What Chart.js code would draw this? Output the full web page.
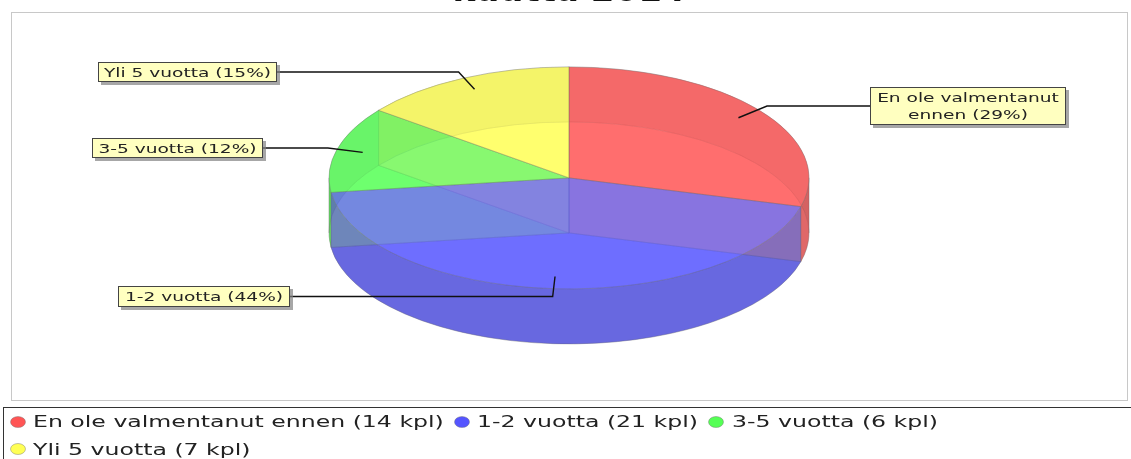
<!DOCTYPE html>
<html>
<head>
<meta charset="utf-8">
<style>
html,body{margin:0;padding:0;background:#fff;overflow:hidden}
canvas{display:block;filter:blur(0.45px)}
</style>
<script src="https://cdn.jsdelivr.net/npm/chart.js@4"></script>
</head>
<body>
<canvas id="c" width="1131" height="459"></canvas>
<script>
const categories = ["En ole valmentanut ennen", "1-2 vuotta", "3-5 vuotta", "Yli 5 vuotta"];
const counts = [14, 21, 6, 7];
const percents = [29, 44, 12, 15];
const titleText = "kuutta 2014";
const topColors = ["rgba(255,85,85,0.66)", "rgba(85,85,255,0.66)", "rgba(85,255,85,0.66)", "rgba(255,255,85,0.66)"];
const wallColors = ["rgba(204,68,68,0.6)", "rgba(68,68,204,0.6)", "rgba(68,204,68,0.6)", "rgba(204,204,68,0.6)"];
const legendColors = ["#ff5555", "#5555ff", "#55ff55", "#ffff55"];

const SQUASH = 111 / 240, DEPTH = 55;
const FONT = '"DejaVu Sans"';
const EDGE = "rgba(110,110,110,0.4)";
const RADIAL = "rgba(200,200,170,0.4)";

// label box layout: x, y, w, h for each category
const boxes = [
  {x: 870, y: 87, w: 196, h: 38, lines: 2},
  {x: 118, y: 286, w: 172, h: 21, lines: 1},
  {x: 92, y: 138, w: 171, h: 20, lines: 1},
  {x: 98, y: 62, w: 179, h: 20, lines: 1}
];
const legendLayout = [
  {mx: 18, my: 422, tx: 33, ty: 427},
  {mx: 462, my: 422, tx: 477, ty: 427},
  {mx: 716, my: 422, tx: 732, ty: 427},
  {mx: 18, my: 449, tx: 33, ty: 455}
];

function sText(ctx, s, x, y, size, stretch, align) {
  ctx.save();
  ctx.font = size + "px " + FONT;
  ctx.textBaseline = "alphabetic";
  ctx.textAlign = align || "left";
  ctx.translate(x, y);
  ctx.scale(stretch, 1);
  ctx.fillText(s, 0, 0);
  ctx.restore();
}

function faces(ctx, arcs, dy, alpha) {
  const a = arcs[0];
  ctx.save();
  ctx.globalAlpha = alpha;
  ctx.translate(a.x, a.y + dy);
  ctx.scale(1, SQUASH);
  ctx.translate(-a.x, -a.y);
  arcs.forEach(arc => arc.draw(ctx));
  ctx.restore();
}

function paintWall(ctx, fill) {
  ctx.fillStyle = fill;
  ctx.fill();
  ctx.strokeStyle = EDGE;
  ctx.lineWidth = 0.6;
  ctx.stroke();
}

// split a slice's angular span at the pie's left and right extremes
function spans(a0, a1) {
  const cuts = [a0];
  for (let k = -2; k <= 4; k++) {
    const c = k * Math.PI;
    if (c > a0 + 1e-6 && c < a1 - 1e-6) cuts.push(c);
  }
  cuts.push(a1);
  return cuts.slice(1).map((c, j) => [cuts[j], c]);
}

function walls(ctx, arcs) {
  const order = arcs.map((arc, i) => ({arc, i, m: Math.sin((arc.startAngle + arc.endAngle) / 2)}))
    .sort((p, q) => p.m - q.m);
  order.forEach(({arc}) => {
    const R = arc.outerRadius, r = R * SQUASH;
    [[arc.startAngle, Math.cos(arc.startAngle) <= 0.0001], [arc.endAngle, Math.cos(arc.endAngle) > 0.0001]]
      .forEach(([ang, visible]) => {
        if (!visible) return;
        const ex = arc.x + R * Math.cos(ang), ey = arc.y + r * Math.sin(ang);
        ctx.beginPath();
        ctx.moveTo(arc.x, arc.y);
        ctx.lineTo(ex, ey);
        ctx.lineTo(ex, ey + DEPTH);
        ctx.lineTo(arc.x, arc.y + DEPTH);
        ctx.closePath();
        paintWall(ctx, RADIAL);
      });
  });
  order.forEach(({arc, i}) => {
    const R = arc.outerRadius, r = R * SQUASH;
    spans(arc.startAngle, arc.endAngle).forEach(([s, e]) => {
      ctx.beginPath();
      ctx.ellipse(arc.x, arc.y, R, r, 0, s, e);
      ctx.ellipse(arc.x, arc.y + DEPTH, R, r, 0, e, s, true);
      ctx.closePath();
      paintWall(ctx, wallColors[i]);
    });
  });
}

function labels(ctx, arcs) {
  arcs.forEach((arc, i) => {
    const b = boxes[i];
    const mid = (arc.startAngle + arc.endAngle) / 2;
    const R = arc.outerRadius, r = R * SQUASH;
    const ly = b.y + b.h / 2;
    const ax = arc.x + 0.89 * R * Math.cos(mid), ay = arc.y + 0.89 * r * Math.sin(mid);
    const ex = arc.x + 1.04 * R * Math.cos(mid);
    const sx = b.x > arc.x ? b.x : b.x + b.w;
    ctx.beginPath();
    ctx.moveTo(sx, ly); ctx.lineTo(ex, ly); ctx.lineTo(ax, ay);
    ctx.strokeStyle = "#111"; ctx.lineWidth = 1.4; ctx.stroke();
    ctx.fillStyle = "rgba(130,130,130,0.7)";
    ctx.fillRect(b.x + 3, b.y + 3, b.w, b.h);
    ctx.fillStyle = "#ffffc0";
    ctx.fillRect(b.x, b.y, b.w, b.h);
    ctx.strokeStyle = "#444"; ctx.lineWidth = 1;
    ctx.strokeRect(b.x + .5, b.y + .5, b.w - 1, b.h - 1);
    ctx.fillStyle = "#222";
    const cx = b.x + b.w / 2;
    if (b.lines === 2) {
      const parts = categories[i].split(" ");
      sText(ctx, parts.slice(0, 3).join(" "), cx, b.y + 15, 13, 1.43, "center");
      sText(ctx, parts.slice(3).join(" ") + " (" + percents[i] + "%)", cx, b.y + 32, 13, 1.43, "center");
    } else {
      sText(ctx, categories[i] + " (" + percents[i] + "%)", cx, b.y + 14.5, 13, 1.43, "center");
    }
  });
}

function legend(ctx) {
  ctx.strokeStyle = "#333"; ctx.lineWidth = 1;
  ctx.strokeRect(3.5, 407.5, 1140, 80);
  categories.forEach((c, i) => {
    const p = legendLayout[i];
    ctx.beginPath();
    ctx.ellipse(p.mx, p.my, 7.5, 5.5, 0, 0, Math.PI * 2);
    ctx.fillStyle = legendColors[i]; ctx.fill();
    ctx.strokeStyle = "rgba(110,110,110,.6)"; ctx.lineWidth = .7; ctx.stroke();
    ctx.fillStyle = "#222";
    sText(ctx, c + " (" + counts[i] + " kpl)", p.tx, p.ty, 16, 1.475);
  });
}

const pie3d = {
  id: "pie3d",
  beforeDraw(chart) {
    const ctx = chart.ctx;
    ctx.save();
    ctx.strokeStyle = "#c8c8c8"; ctx.lineWidth = 1;
    ctx.strokeRect(11.5, 12.5, 1116, 388);
    ctx.restore();
  },
  beforeDatasetsDraw(chart) {
    const ctx = chart.ctx;
    const arcs = chart.getDatasetMeta(0).data;
    ctx.save();
    faces(ctx, arcs, DEPTH, 0.864);
    walls(ctx, arcs);
    faces(ctx, arcs, 0, 1);
    labels(ctx, arcs);
    legend(ctx);
    ctx.restore();
    return false;
  }
};

new Chart(document.getElementById("c"), {
  type: "pie",
  data: {
    labels: categories,
    datasets: [{
      data: counts,
      backgroundColor: topColors,
      borderColor: EDGE,
      borderWidth: 1,
      radius: 240
    }]
  },
  options: {
    responsive: false,
    animation: false,
    layout: {padding: {left: 7, right: 0, top: 0, bottom: 116}},
    plugins: {
      legend: {display: false},
      tooltip: {enabled: false},
      title: {
        display: true,
        text: titleText,
        color: "#111",
        font: {family: FONT, size: 34, weight: "bold", lineHeight: 1.2},
        padding: {top: -28, bottom: 0}
      }
    }
  },
  plugins: [pie3d]
});
</script>
</body>
</html>
